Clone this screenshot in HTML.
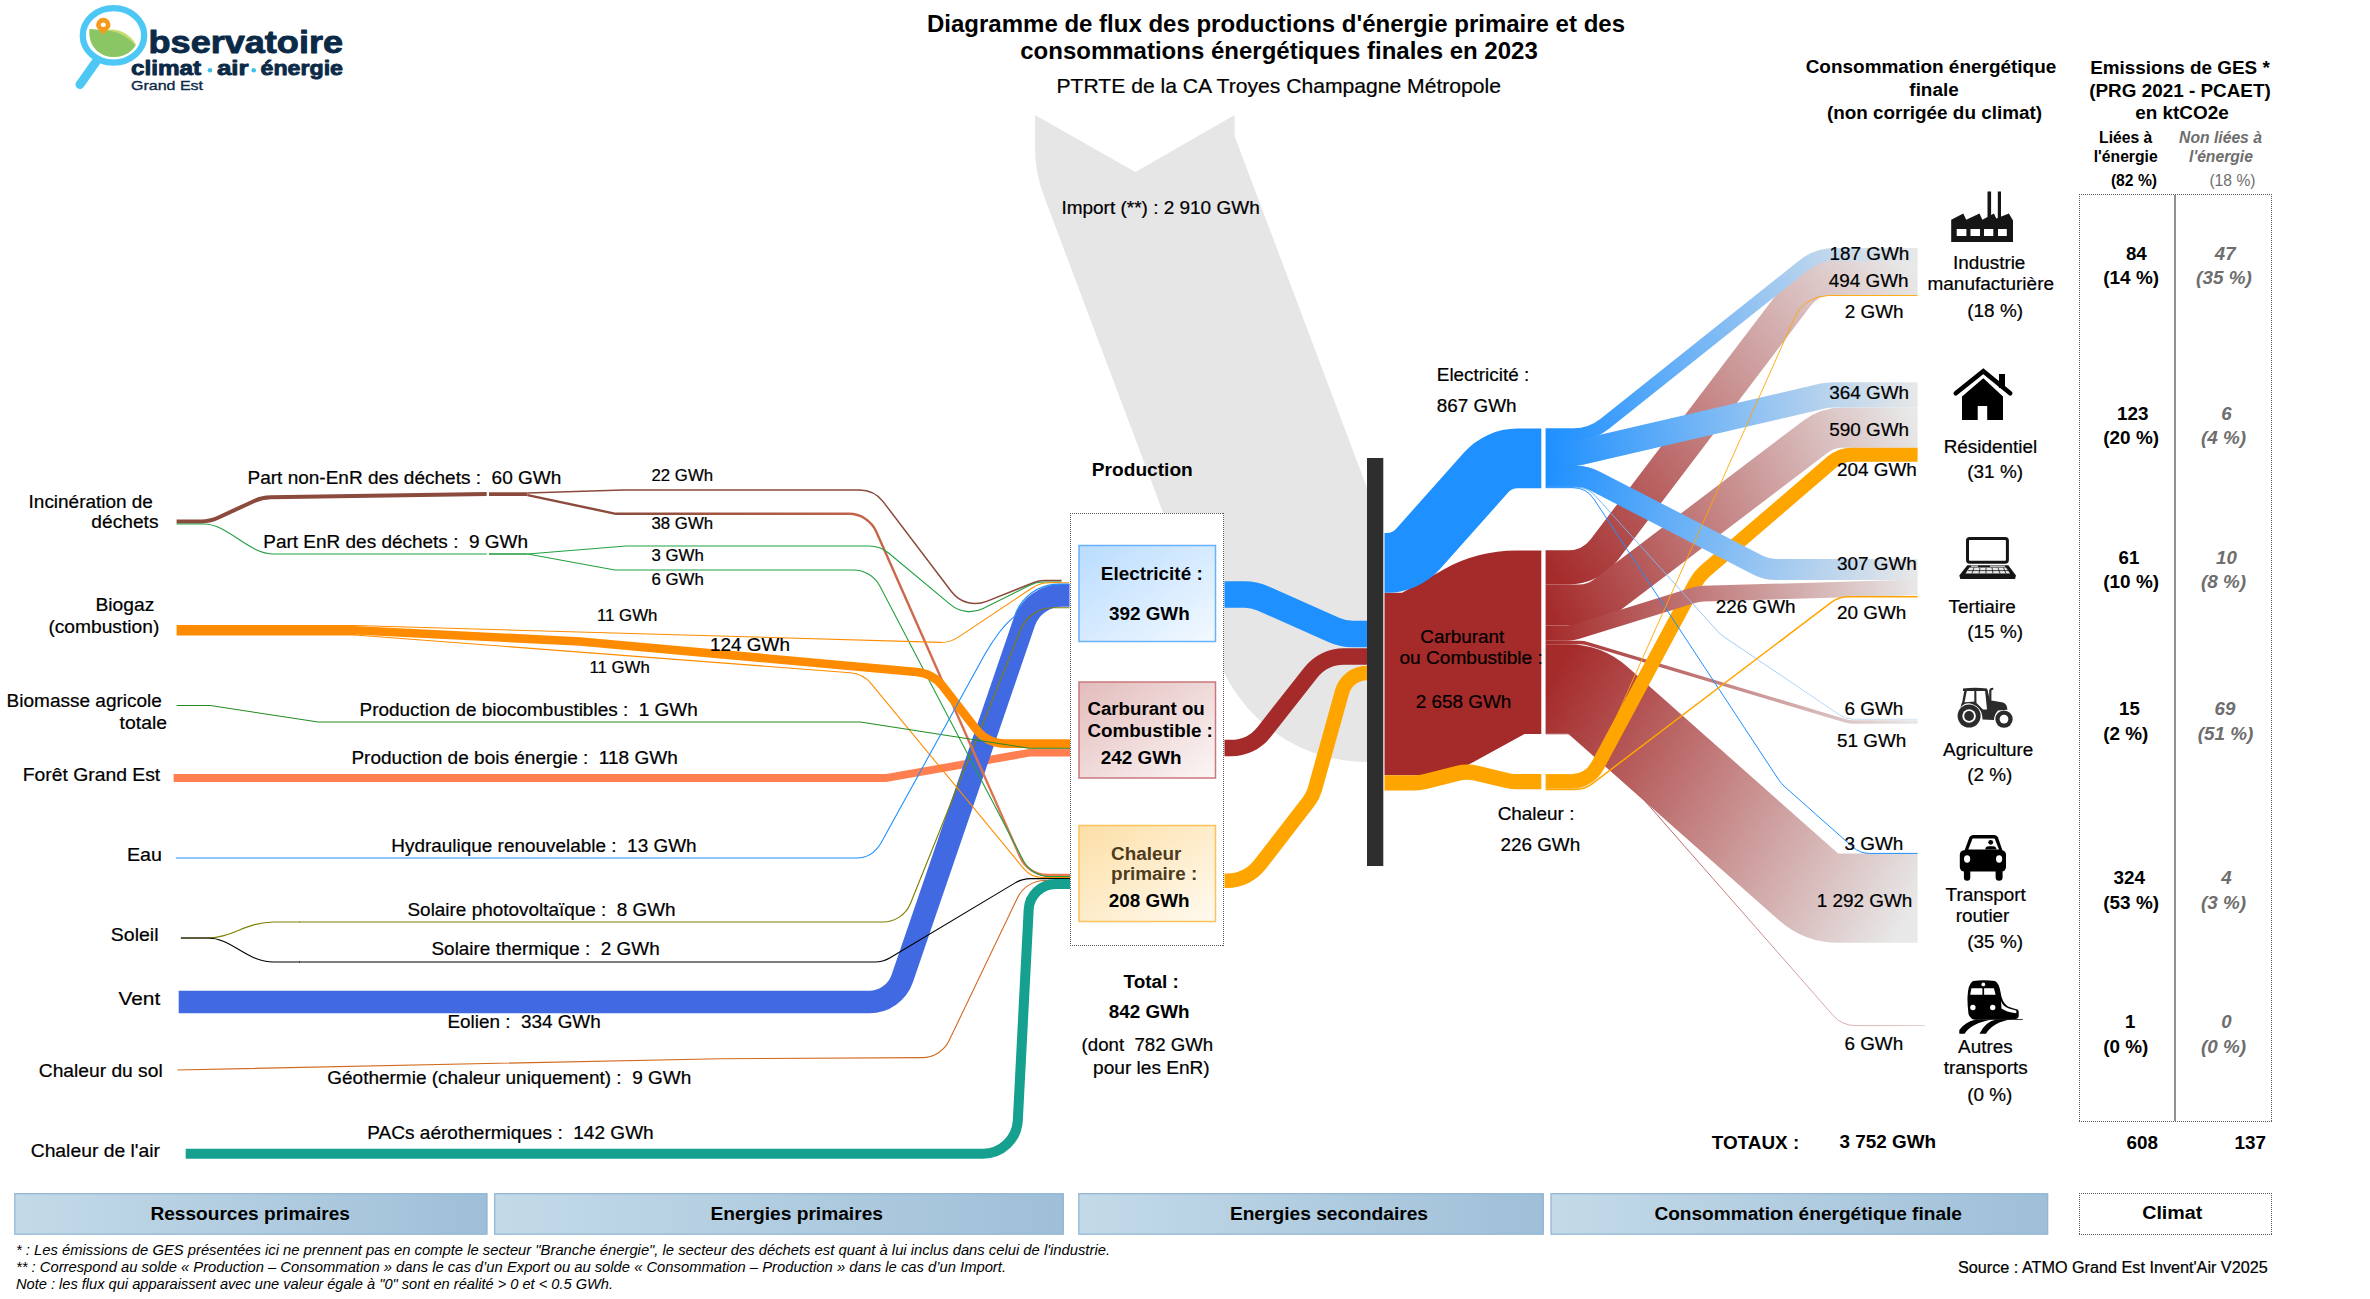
<!DOCTYPE html>
<html><head><meta charset="utf-8"><title>Diagramme de flux</title>
<style>
html,body{margin:0;padding:0;background:#fff;}
body{width:2370px;height:1299px;overflow:hidden;font-family:"Liberation Sans",sans-serif;}
svg{display:block;font-family:"Liberation Sans",sans-serif;}
</style></head><body>
<svg width="2370" height="1299" viewBox="0 0 2370 1299">
<defs>
<linearGradient id="g1" gradientUnits="userSpaceOnUse" x1="615" y1="0" x2="1070" y2="0"><stop offset="0" stop-color="#8b4a3c"/><stop offset="1" stop-color="#ee7a55"/></linearGradient>
<linearGradient id="gE" x1="0" y1="0" x2="1" y2="1"><stop offset="0" stop-color="#b9dcff"/><stop offset="1" stop-color="#f3f9ff"/></linearGradient>
<linearGradient id="gC" x1="0" y1="0" x2="1" y2="1"><stop offset="0" stop-color="#e3bcbc"/><stop offset="1" stop-color="#fcf6f6"/></linearGradient>
<linearGradient id="gH" x1="0" y1="0" x2="1" y2="1"><stop offset="0" stop-color="#fddfa6"/><stop offset="1" stop-color="#fffaf0"/></linearGradient>
<linearGradient id="g2" gradientUnits="userSpaceOnUse" x1="1545.6" y1="0" x2="1917.6" y2="0"><stop offset="0" stop-color="#a52a2a"/><stop offset="1" stop-color="#e8e8e8"/></linearGradient>
<linearGradient id="g3" gradientUnits="userSpaceOnUse" x1="1545.6" y1="0" x2="1917.6" y2="0"><stop offset="0" stop-color="#1e90ff"/><stop offset="1" stop-color="#e8e8e8"/></linearGradient>
<linearGradient id="g4" gradientUnits="userSpaceOnUse" x1="1545.6" y1="567.35" x2="1917.6" y2="277.9"><stop offset="0" stop-color="#a52a2a"/><stop offset="1" stop-color="#e8e8e8"/></linearGradient>
<linearGradient id="g5" gradientUnits="userSpaceOnUse" x1="1545.6" y1="604.8" x2="1917.6" y2="427.6"><stop offset="0" stop-color="#a52a2a"/><stop offset="1" stop-color="#e8e8e8"/></linearGradient>
<linearGradient id="g6" gradientUnits="userSpaceOnUse" x1="1545.6" y1="688.95" x2="1917.6" y2="898.15"><stop offset="0" stop-color="#a52a2a"/><stop offset="1" stop-color="#e8e8e8"/></linearGradient>
<linearGradient id="g7" gradientUnits="userSpaceOnUse" x1="1545.6" y1="642.55" x2="1917.6" y2="722.1"><stop offset="0" stop-color="#a52a2a"/><stop offset="1" stop-color="#e8e8e8"/></linearGradient>
<linearGradient id="g8" gradientUnits="userSpaceOnUse" x1="1545.6" y1="0" x2="1924.7" y2="0"><stop offset="0" stop-color="#a83c3c"/><stop offset="1" stop-color="#e6cccc"/></linearGradient>
<linearGradient id="g9" gradientUnits="userSpaceOnUse" x1="1545.6" y1="434.85" x2="1917.6" y2="254.45"><stop offset="0" stop-color="#1e90ff"/><stop offset="1" stop-color="#e8e8e8"/></linearGradient>
<linearGradient id="g10" gradientUnits="userSpaceOnUse" x1="1545.6" y1="453.6" x2="1917.6" y2="394.9"><stop offset="0" stop-color="#1e90ff"/><stop offset="1" stop-color="#e8e8e8"/></linearGradient>
<linearGradient id="g11" gradientUnits="userSpaceOnUse" x1="1545.6" y1="476.4" x2="1917.6" y2="569.5"><stop offset="0" stop-color="#1e90ff"/><stop offset="1" stop-color="#e8e8e8"/></linearGradient>
<linearGradient id="g12" gradientUnits="userSpaceOnUse" x1="1545.6" y1="633" x2="1917.6" y2="587.4"><stop offset="0" stop-color="#a52a2a"/><stop offset="1" stop-color="#e8e8e8"/></linearGradient>
<linearGradient id="g13" gradientUnits="userSpaceOnUse" x1="1545.6" y1="0" x2="1917.6" y2="0"><stop offset="0" stop-color="#5aa9f5"/><stop offset="1" stop-color="#cfe2f5"/></linearGradient>
<linearGradient id="gBar" x1="0" y1="0" x2="1" y2="0"><stop offset="0" stop-color="#c3dae8"/><stop offset="1" stop-color="#9fbfd8"/></linearGradient>
</defs>
<path d="M1035,115 L1135.4,172 L1234.6,115 L1234.6,136 L1367,487.8 L1367,762 A159,159 0 0 1 1218.2,659 L1043.8,195.8 A137.5,137.5 0 0 1 1035,148 Z" fill="#e6e6e6"/>
<path d="M173.60,778.00 L885.13,778.00 A10.00,10.00 0 0 0 886.86,777.85 L1029.64,752.75 A10.00,10.00 0 0 1 1031.37,752.60 L1070.00,752.60" fill="none" stroke="#ff7f50" stroke-width="7.80" stroke-linejoin="round"/>
<path d="M178.70,1002.00 L869.19,1002.00 A35.00,35.00 0 0 0 902.30,978.34 L1024.14,622.44 A40.00,40.00 0 0 1 1061.99,595.40 L1069.50,595.40" fill="none" stroke="#4169e1" stroke-width="22.60" />
<path d="M176.60,521.40 L201.21,521.40 A40.00,40.00 0 0 0 217.98,517.72 L254.30,500.95 A40.00,40.00 0 0 1 270.48,497.28 L486.70,494.10" fill="none" stroke="#8b4a3c" stroke-width="4.00" />
<path d="M489.00,494.10 L527.60,494.10" fill="none" stroke="#8b4a3c" stroke-width="3.80" />
<path d="M176.6,524 L204,524 C228,524 248,554 274,554 L486.7,554" fill="none" stroke="#22a040" stroke-width="1.1"/>
<path d="M489.00,554.00 L527.60,554.00" fill="none" stroke="#1a9a3a" stroke-width="1.70" />
<path d="M180.9,938 L208,938 C232,938 246,922 274,922 L300,922" fill="none" stroke="#808000" stroke-width="1.15"/>
<path d="M299.00,922.00 L882.74,922.00 A30.00,30.00 0 0 0 910.57,903.20 L1020.67,629.63 A35.00,35.00 0 0 1 1053.14,607.70 L1069.50,607.70" fill="none" stroke="#808000" stroke-width="1.15" />
<path d="M527.60,492.90 L623.20,490.00 L859.42,490.00 A30.00,30.00 0 0 1 883.30,501.85 L951.58,591.72 A30.00,30.00 0 0 0 986.61,601.42 L1033.34,582.74 A30.00,30.00 0 0 1 1044.47,580.60 L1061.60,580.60" fill="none" stroke="#8b4a3c" stroke-width="1.50" />
<path d="M527.60,495.20 L615.80,513.80 L848.86,513.80 A30.00,30.00 0 0 1 876.30,531.67 L1020.20,857.13 A30.00,30.00 0 0 0 1047.64,875.00 L1070.00,875.00" fill="none" stroke="url(#g1)" stroke-width="2.40" />
<path d="M527.60,554.00 L626.00,546.00 L869.33,546.00 A30.00,30.00 0 0 1 888.55,552.96 L950.54,604.64 A30.00,30.00 0 0 0 983.15,608.44 L1029.77,585.16 A30.00,30.00 0 0 1 1043.17,582.00 L1061.60,582.00" fill="none" stroke="#22a040" stroke-width="1.10" />
<path d="M527.60,554.00 L614.80,570.00 L853.23,570.00 A30.00,30.00 0 0 1 879.82,586.10 L1023.28,860.40 A30.00,30.00 0 0 0 1049.87,876.50 L1070.00,876.50" fill="none" stroke="#22a040" stroke-width="1.10" />
<path d="M176.60,630.20 L356.00,630.20" fill="none" stroke="#ff8c00" stroke-width="10.50" />
<path d="M354.80,625.50 L940.45,642.42 A30.00,30.00 0 0 0 957.95,637.40 L1032.44,587.74 A30.00,30.00 0 0 1 1049.08,582.70 L1069.00,582.70" fill="none" stroke="#ff8c00" stroke-width="1.10" />
<path d="M354.80,635.00 L850.26,672.73 A30.00,30.00 0 0 1 871.13,683.56 L1023.50,868.40 A25.00,25.00 0 0 0 1042.79,877.50 L1070.00,877.50" fill="none" stroke="#ff8c00" stroke-width="1.10" />
<path d="M354.00,630.20 L580.00,641.50 L916.50,671.91 A38.00,38.00 0 0 1 943.14,686.51 L975.89,728.85 A38.00,38.00 0 0 0 1005.95,743.60 L1070.00,743.60" fill="none" stroke="#ff8c00" stroke-width="8.60" stroke-linejoin="round"/>
<path d="M176.60,705.50 L209.77,705.50 A3.00,3.00 0 0 1 210.22,705.53 L318.18,721.97 A3.00,3.00 0 0 0 318.63,722.00 L859.61,722.00 A5.00,5.00 0 0 1 860.38,722.06 L1028.74,748.18 A10.00,10.00 0 0 0 1030.27,748.30 L1070.00,748.30" fill="none" stroke="#228b22" stroke-width="1.10" />
<path d="M175.8,858 L857,858 Q872,858 881,843 L985,654 Q1000,628 1014.65,616.1 A46.3,46.3 0 0 1 1058.5,584.1 L1069.5,584.1" fill="none" stroke="#1e90ff" stroke-width="1.1"/>
<path d="M180.9,938 L208,938 C232,938 246,962 274,962 L300,962" fill="none" stroke="#000" stroke-width="1.1"/>
<path d="M299.00,962.00 L874.71,962.00 A30.00,30.00 0 0 0 890.12,957.74 L1015.18,882.86 A30.00,30.00 0 0 1 1030.59,878.60 L1070.00,878.60" fill="none" stroke="#000" stroke-width="1.10" />
<path d="M177.50,1070.00 L720.00,1058.70 L922.22,1057.60 A30.00,30.00 0 0 0 949.11,1040.56 L1017.64,897.54 A30.00,30.00 0 0 1 1044.69,880.50 L1070.00,880.50" fill="none" stroke="#d2691e" stroke-width="1.10" />
<path d="M185.70,1153.80 L982.86,1153.80 A35.00,35.00 0 0 0 1017.81,1120.60 L1028.68,909.61 A27.00,27.00 0 0 1 1055.64,884.00 L1070.00,884.00" fill="none" stroke="#16a090" stroke-width="10.00" />
<rect x="1070" y="513" width="154" height="433" fill="#fff"/>
<line x1="1070" y1="513.5" x2="1224" y2="513.5" stroke="#5a5a5a" stroke-width="1" stroke-dasharray="1 1" shape-rendering="crispEdges"/>
<line x1="1070" y1="945.5" x2="1224" y2="945.5" stroke="#5a5a5a" stroke-width="1" stroke-dasharray="1 1" shape-rendering="crispEdges"/>
<line x1="1070.5" y1="513" x2="1070.5" y2="946" stroke="#5a5a5a" stroke-width="1" stroke-dasharray="1 1" shape-rendering="crispEdges"/>
<line x1="1223.5" y1="513" x2="1223.5" y2="946" stroke="#5a5a5a" stroke-width="1" stroke-dasharray="1 1" shape-rendering="crispEdges"/>
<rect x="1079" y="545.5" width="136.5" height="96" fill="url(#gE)" stroke="#69b1fb" stroke-width="1.5"/>
<rect x="1079" y="682" width="136.5" height="96" fill="url(#gC)" stroke="#c9787c" stroke-width="1.5"/>
<rect x="1079" y="825.5" width="136.5" height="96" fill="url(#gH)" stroke="#fcc35a" stroke-width="1.5"/>
<path d="M1224.50,594.40 L1244.44,594.40 A45.00,45.00 0 0 1 1262.73,598.29 L1334.27,630.11 A45.00,45.00 0 0 0 1352.56,634.00 L1368.00,634.00" fill="none" stroke="#1e90ff" stroke-width="26.50" />
<path d="M1224.50,748.00 L1231.04,748.00 A42.00,42.00 0 0 0 1264.01,732.02 L1310.99,672.48 A42.00,42.00 0 0 1 1343.96,656.50 L1368.00,656.50" fill="none" stroke="#a52a2a" stroke-width="16.50" />
<path d="M1224.50,880.70 L1226.89,880.70 A42.00,42.00 0 0 0 1260.11,864.39 L1308.81,801.42 A35.00,35.00 0 0 0 1314.84,789.41 L1342.02,691.94 A25.90,25.90 0 0 1 1366.96,673.00 L1368.00,673.00" fill="none" stroke="#ffa500" stroke-width="14.50" />
<path d="M1384.5,592.8 L1402.1,592.8 L1443.7,569.4 A150,150 0 0 1 1516.4,550.6 L1541.3,550.6 L1541.3,733.9 L1524.5,733.9 L1469.8,764 A91.25,91.25 0 0 1 1425.6,775.2 L1384.5,775.2 Z" fill="#a52a2a"/>
<path d="M1384.50,562.90 L1386.84,562.90 A42.00,42.00 0 0 0 1418.23,548.81 L1486.07,472.49 A42.00,42.00 0 0 1 1517.46,458.40 L1541.30,458.40" fill="none" stroke="#1e90ff" stroke-width="59.60" />
<path d="M1384.50,782.90 L1415.01,782.90 A40.00,40.00 0 0 0 1424.83,781.68 L1457.52,773.40 A40.00,40.00 0 0 1 1476.51,773.24 L1507.48,780.53 A40.00,40.00 0 0 0 1516.65,781.60 L1541.30,781.60" fill="none" stroke="#ffa500" stroke-width="15.20" />
<path d="M1545.60,567.35 L1568.46,567.35 A45.00,45.00 0 0 0 1604.31,549.55 L1796.89,295.70 A45.00,45.00 0 0 1 1832.74,277.90 L1917.60,277.90" fill="none" stroke="url(#g4)" stroke-width="34.20" stroke-linejoin="round"/>
<path d="M1545.60,604.80 L1578.86,604.80 A45.00,45.00 0 0 0 1606.06,595.65 L1815.44,436.75 A45.00,45.00 0 0 1 1842.64,427.60 L1917.60,427.60" fill="none" stroke="url(#g5)" stroke-width="40.40" stroke-linejoin="round"/>
<path d="M1545.60,688.95 L1567.94,688.95 A45.00,45.00 0 0 1 1597.77,700.26 L1808.53,886.84 A45.00,45.00 0 0 0 1838.36,898.15 L1917.60,898.15" fill="none" stroke="url(#g6)" stroke-width="89.30" stroke-linejoin="round"/>
<path d="M1545.60,642.55 L1579.60,642.55 A30.00,30.00 0 0 1 1588.21,643.81 L1845.39,720.84 A30.00,30.00 0 0 0 1854.00,722.10 L1917.60,722.10" fill="none" stroke="url(#g7)" stroke-width="3.50" />
<path d="M1545.60,733.80 L1572.41,733.80 A30.00,30.00 0 0 1 1594.96,744.02 L1833.04,1015.38 A30.00,30.00 0 0 0 1855.59,1025.60 L1924.70,1025.60" fill="none" stroke="url(#g8)" stroke-width="1.00" />
<path d="M1545.60,781.65 L1571.04,781.65 A30.00,30.00 0 0 0 1597.48,765.83 L1695.58,582.87 A40.00,40.00 0 0 1 1704.75,571.44 L1832.06,461.95 A30.00,30.00 0 0 1 1851.63,454.70 L1917.60,454.70" fill="none" stroke="#ffa500" stroke-width="14.10" stroke-linejoin="round"/>
<path d="M1545.60,434.85 L1573.51,434.85 A50.00,50.00 0 0 0 1604.68,423.95 L1803.62,265.35 A50.00,50.00 0 0 1 1834.79,254.45 L1917.60,254.45" fill="none" stroke="url(#g9)" stroke-width="13.10" stroke-linejoin="round"/>
<path d="M1545.60,453.60 L1568.98,453.60 A50.00,50.00 0 0 0 1580.28,452.31 L1822.12,396.19 A50.00,50.00 0 0 1 1833.42,394.90 L1917.60,394.90" fill="none" stroke="url(#g10)" stroke-width="25.30" stroke-linejoin="round"/>
<path d="M1545.60,476.40 L1576.29,476.40 A40.00,40.00 0 0 1 1594.63,480.85 L1757.87,565.05 A40.00,40.00 0 0 0 1776.21,569.50 L1917.60,569.50" fill="none" stroke="url(#g11)" stroke-width="21.20" stroke-linejoin="round"/>
<path d="M1545.60,633.00 L1567.44,633.00 A30.00,30.00 0 0 0 1576.35,631.65 L1692.76,595.43 A40.00,40.00 0 0 1 1703.48,593.64 L1917.60,587.40" fill="none" stroke="url(#g12)" stroke-width="15.60" stroke-linejoin="round"/>
<path d="M1545.60,487.20 L1576.39,487.20 A25.00,25.00 0 0 1 1594.95,495.45 L1717.24,630.89 A40.00,40.00 0 0 0 1724.53,637.22 L1839.66,715.01 A25.00,25.00 0 0 0 1853.65,719.30 L1917.60,719.30" fill="none" stroke="url(#g13)" stroke-width="0.90" />
<path d="M1545.60,487.70 L1572.93,487.70 A25.00,25.00 0 0 1 1593.81,498.95 L1778.28,779.17 A40.00,40.00 0 0 0 1785.17,787.12 L1852.90,847.11 A25.00,25.00 0 0 0 1869.48,853.40 L1917.60,853.40" fill="none" stroke="#1e90ff" stroke-width="1.00" />
<path d="M1545.60,774.60 L1571.14,774.60 A30.00,30.00 0 0 0 1598.53,756.83 L1794.72,317.42 A37.00,37.00 0 0 1 1828.50,295.50 L1917.60,295.50" fill="none" stroke="#ffa500" stroke-width="0.90" />
<path d="M1545.60,789.40 L1574.60,789.40 A30.00,30.00 0 0 0 1592.74,783.30 L1830.56,602.80 A30.00,30.00 0 0 1 1848.70,596.70 L1917.60,596.70" fill="none" stroke="#ffa500" stroke-width="1.50" />
<rect x="1367" y="458" width="16.3" height="408" fill="#2e2e2e"/>
<text x="1276.0" y="32.0" font-size="24.00" font-weight="bold" font-style="normal" fill="#000" text-anchor="middle" xml:space="preserve" textLength="698.0" lengthAdjust="spacingAndGlyphs">Diagramme de flux des productions d'énergie primaire et des</text>
<text x="1279.0" y="58.5" font-size="24.00" font-weight="bold" font-style="normal" fill="#000" text-anchor="middle" xml:space="preserve" textLength="517.5" lengthAdjust="spacingAndGlyphs">consommations énergétiques finales en 2023</text>
<text x="1056.5" y="93.0" font-size="21.00" font-weight="normal" font-style="normal" fill="#000" text-anchor="start" xml:space="preserve" textLength="444.5" lengthAdjust="spacingAndGlyphs" stroke="#000" stroke-width="0.22">PTRTE de la CA Troyes Champagne Métropole</text>
<text x="1061.4" y="214.0" font-size="18.67" font-weight="normal" font-style="normal" fill="#000" text-anchor="start" xml:space="preserve" textLength="198.3" lengthAdjust="spacingAndGlyphs" stroke="#000" stroke-width="0.22">Import (**) : 2 910 GWh</text>
<text x="28.6" y="507.6" font-size="18.67" font-weight="normal" font-style="normal" fill="#000" text-anchor="start" xml:space="preserve" textLength="124.3" lengthAdjust="spacingAndGlyphs" stroke="#000" stroke-width="0.22">Incinération de</text>
<text x="91.3" y="528.4" font-size="18.67" font-weight="normal" font-style="normal" fill="#000" text-anchor="start" xml:space="preserve" textLength="67.2" lengthAdjust="spacingAndGlyphs" stroke="#000" stroke-width="0.22">déchets</text>
<text x="95.5" y="611.4" font-size="18.67" font-weight="normal" font-style="normal" fill="#000" text-anchor="start" xml:space="preserve" textLength="58.8" lengthAdjust="spacingAndGlyphs" stroke="#000" stroke-width="0.22">Biogaz</text>
<text x="48.4" y="632.6" font-size="18.67" font-weight="normal" font-style="normal" fill="#000" text-anchor="start" xml:space="preserve" textLength="110.9" lengthAdjust="spacingAndGlyphs" stroke="#000" stroke-width="0.22">(combustion)</text>
<text x="6.6" y="707.4" font-size="18.67" font-weight="normal" font-style="normal" fill="#000" text-anchor="start" xml:space="preserve" textLength="155.3" lengthAdjust="spacingAndGlyphs" stroke="#000" stroke-width="0.22">Biomasse agricole</text>
<text x="119.6" y="729.4" font-size="18.67" font-weight="normal" font-style="normal" fill="#000" text-anchor="start" xml:space="preserve" textLength="47.4" lengthAdjust="spacingAndGlyphs" stroke="#000" stroke-width="0.22">totale</text>
<text x="22.7" y="780.8" font-size="18.67" font-weight="normal" font-style="normal" fill="#000" text-anchor="start" xml:space="preserve" textLength="137.5" lengthAdjust="spacingAndGlyphs" stroke="#000" stroke-width="0.22">Forêt Grand Est</text>
<text x="126.9" y="860.9" font-size="18.67" font-weight="normal" font-style="normal" fill="#000" text-anchor="start" xml:space="preserve" textLength="35.0" lengthAdjust="spacingAndGlyphs" stroke="#000" stroke-width="0.22">Eau</text>
<text x="110.8" y="940.6" font-size="18.67" font-weight="normal" font-style="normal" fill="#000" text-anchor="start" xml:space="preserve" textLength="47.7" lengthAdjust="spacingAndGlyphs" stroke="#000" stroke-width="0.22">Soleil</text>
<text x="118.4" y="1004.7" font-size="18.67" font-weight="normal" font-style="normal" fill="#000" text-anchor="start" xml:space="preserve" textLength="41.8" lengthAdjust="spacingAndGlyphs" stroke="#000" stroke-width="0.22">Vent</text>
<text x="38.8" y="1077.0" font-size="18.67" font-weight="normal" font-style="normal" fill="#000" text-anchor="start" xml:space="preserve" textLength="123.9" lengthAdjust="spacingAndGlyphs" stroke="#000" stroke-width="0.22">Chaleur du sol</text>
<text x="30.7" y="1156.5" font-size="18.67" font-weight="normal" font-style="normal" fill="#000" text-anchor="start" xml:space="preserve" textLength="129.3" lengthAdjust="spacingAndGlyphs" stroke="#000" stroke-width="0.22">Chaleur de l'air</text>
<text x="247.5" y="483.8" font-size="18.67" font-weight="normal" font-style="normal" fill="#000" text-anchor="start" xml:space="preserve" textLength="313.8" lengthAdjust="spacingAndGlyphs" stroke="#000" stroke-width="0.22">Part non-EnR des déchets :  60 GWh</text>
<text x="263.3" y="547.5" font-size="18.67" font-weight="normal" font-style="normal" fill="#000" text-anchor="start" xml:space="preserve" textLength="264.7" lengthAdjust="spacingAndGlyphs" stroke="#000" stroke-width="0.22">Part EnR des déchets :  9 GWh</text>
<text x="359.5" y="715.8" font-size="18.67" font-weight="normal" font-style="normal" fill="#000" text-anchor="start" xml:space="preserve" textLength="338.2" lengthAdjust="spacingAndGlyphs" stroke="#000" stroke-width="0.22">Production de biocombustibles :  1 GWh</text>
<text x="351.4" y="763.7" font-size="18.67" font-weight="normal" font-style="normal" fill="#000" text-anchor="start" xml:space="preserve" textLength="326.4" lengthAdjust="spacingAndGlyphs" stroke="#000" stroke-width="0.22">Production de bois énergie :  118 GWh</text>
<text x="391.3" y="851.6" font-size="18.67" font-weight="normal" font-style="normal" fill="#000" text-anchor="start" xml:space="preserve" textLength="305.3" lengthAdjust="spacingAndGlyphs" stroke="#000" stroke-width="0.22">Hydraulique renouvelable :  13 GWh</text>
<text x="407.5" y="915.5" font-size="18.67" font-weight="normal" font-style="normal" fill="#000" text-anchor="start" xml:space="preserve" textLength="268.1" lengthAdjust="spacingAndGlyphs" stroke="#000" stroke-width="0.22">Solaire photovoltaïque :  8 GWh</text>
<text x="431.5" y="955.2" font-size="18.67" font-weight="normal" font-style="normal" fill="#000" text-anchor="start" xml:space="preserve" textLength="228.2" lengthAdjust="spacingAndGlyphs" stroke="#000" stroke-width="0.22">Solaire thermique :  2 GWh</text>
<text x="447.4" y="1027.8" font-size="18.67" font-weight="normal" font-style="normal" fill="#000" text-anchor="start" xml:space="preserve" textLength="153.3" lengthAdjust="spacingAndGlyphs" stroke="#000" stroke-width="0.22">Eolien :  334 GWh</text>
<text x="327.3" y="1083.7" font-size="18.67" font-weight="normal" font-style="normal" fill="#000" text-anchor="start" xml:space="preserve" textLength="363.9" lengthAdjust="spacingAndGlyphs" stroke="#000" stroke-width="0.22">Géothermie (chaleur uniquement) :  9 GWh</text>
<text x="367.3" y="1139.0" font-size="18.67" font-weight="normal" font-style="normal" fill="#000" text-anchor="start" xml:space="preserve" textLength="286.4" lengthAdjust="spacingAndGlyphs" stroke="#000" stroke-width="0.22">PACs aérothermiques :  142 GWh</text>
<text x="651.5" y="481.0" font-size="16.00" font-weight="normal" font-style="normal" fill="#000" text-anchor="start" xml:space="preserve" textLength="61.6" lengthAdjust="spacingAndGlyphs" stroke="#000" stroke-width="0.22">22 GWh</text>
<text x="651.5" y="528.7" font-size="16.00" font-weight="normal" font-style="normal" fill="#000" text-anchor="start" xml:space="preserve" textLength="61.6" lengthAdjust="spacingAndGlyphs" stroke="#000" stroke-width="0.22">38 GWh</text>
<text x="651.5" y="560.6" font-size="16.00" font-weight="normal" font-style="normal" fill="#000" text-anchor="start" xml:space="preserve" textLength="52.3" lengthAdjust="spacingAndGlyphs" stroke="#000" stroke-width="0.22">3 GWh</text>
<text x="651.5" y="584.7" font-size="16.00" font-weight="normal" font-style="normal" fill="#000" text-anchor="start" xml:space="preserve" textLength="52.3" lengthAdjust="spacingAndGlyphs" stroke="#000" stroke-width="0.22">6 GWh</text>
<text x="597.0" y="620.8" font-size="16.00" font-weight="normal" font-style="normal" fill="#000" text-anchor="start" xml:space="preserve" textLength="60.4" lengthAdjust="spacingAndGlyphs" stroke="#000" stroke-width="0.22">11 GWh</text>
<text x="710.1" y="651.4" font-size="18.67" font-weight="normal" font-style="normal" fill="#000" text-anchor="start" xml:space="preserve" textLength="79.8" lengthAdjust="spacingAndGlyphs" stroke="#000" stroke-width="0.22">124 GWh</text>
<text x="589.4" y="673.4" font-size="16.00" font-weight="normal" font-style="normal" fill="#000" text-anchor="start" xml:space="preserve" textLength="60.4" lengthAdjust="spacingAndGlyphs" stroke="#000" stroke-width="0.22">11 GWh</text>
<text x="1091.8" y="475.8" font-size="18.67" font-weight="bold" font-style="normal" fill="#000" text-anchor="start" xml:space="preserve" textLength="101.0" lengthAdjust="spacingAndGlyphs">Production</text>
<text x="1100.8" y="579.8" font-size="18.67" font-weight="bold" font-style="normal" fill="#000" text-anchor="start" xml:space="preserve" textLength="101.9" lengthAdjust="spacingAndGlyphs">Electricité :</text>
<text x="1108.9" y="620.2" font-size="18.67" font-weight="bold" font-style="normal" fill="#000" text-anchor="start" xml:space="preserve" textLength="80.8" lengthAdjust="spacingAndGlyphs">392 GWh</text>
<text x="1087.4" y="714.9" font-size="18.67" font-weight="bold" font-style="normal" fill="#000" text-anchor="start" xml:space="preserve" textLength="117.4" lengthAdjust="spacingAndGlyphs">Carburant ou</text>
<text x="1087.4" y="736.8" font-size="18.67" font-weight="bold" font-style="normal" fill="#000" text-anchor="start" xml:space="preserve" textLength="125.5" lengthAdjust="spacingAndGlyphs">Combustible :</text>
<text x="1100.8" y="763.7" font-size="18.67" font-weight="bold" font-style="normal" fill="#000" text-anchor="start" xml:space="preserve" textLength="80.8" lengthAdjust="spacingAndGlyphs">242 GWh</text>
<text x="1111.1" y="859.6" font-size="18.67" font-weight="bold" font-style="normal" fill="#4d3b1c" text-anchor="start" xml:space="preserve" textLength="70.3" lengthAdjust="spacingAndGlyphs">Chaleur</text>
<text x="1111.1" y="880.1" font-size="18.67" font-weight="bold" font-style="normal" fill="#4d3b1c" text-anchor="start" xml:space="preserve" textLength="86.1" lengthAdjust="spacingAndGlyphs">primaire :</text>
<text x="1108.8" y="907.4" font-size="18.67" font-weight="bold" font-style="normal" fill="#000" text-anchor="start" xml:space="preserve" textLength="80.8" lengthAdjust="spacingAndGlyphs">208 GWh</text>
<text x="1123.6" y="987.5" font-size="18.67" font-weight="bold" font-style="normal" fill="#000" text-anchor="start" xml:space="preserve" textLength="55.3" lengthAdjust="spacingAndGlyphs">Total :</text>
<text x="1108.8" y="1018.2" font-size="18.67" font-weight="bold" font-style="normal" fill="#000" text-anchor="start" xml:space="preserve" textLength="80.8" lengthAdjust="spacingAndGlyphs">842 GWh</text>
<text x="1081.6" y="1050.6" font-size="18.67" font-weight="normal" font-style="normal" fill="#000" text-anchor="start" xml:space="preserve" textLength="131.6" lengthAdjust="spacingAndGlyphs" stroke="#000" stroke-width="0.22">(dont  782 GWh</text>
<text x="1093.1" y="1073.7" font-size="18.67" font-weight="normal" font-style="normal" fill="#000" text-anchor="start" xml:space="preserve" textLength="116.6" lengthAdjust="spacingAndGlyphs" stroke="#000" stroke-width="0.22">pour les EnR)</text>
<text x="1436.8" y="381.0" font-size="18.67" font-weight="normal" font-style="normal" fill="#000" text-anchor="start" xml:space="preserve" textLength="92.4" lengthAdjust="spacingAndGlyphs" stroke="#000" stroke-width="0.22">Electricité :</text>
<text x="1436.8" y="411.5" font-size="18.67" font-weight="normal" font-style="normal" fill="#000" text-anchor="start" xml:space="preserve" textLength="79.8" lengthAdjust="spacingAndGlyphs" stroke="#000" stroke-width="0.22">867 GWh</text>
<text x="1420.3" y="643.3" font-size="18.67" font-weight="normal" font-style="normal" fill="#000" text-anchor="start" xml:space="preserve" textLength="84.0" lengthAdjust="spacingAndGlyphs" stroke="#000" stroke-width="0.22">Carburant</text>
<text x="1399.5" y="664.4" font-size="18.67" font-weight="normal" font-style="normal" fill="#000" text-anchor="start" xml:space="preserve" textLength="143.2" lengthAdjust="spacingAndGlyphs" stroke="#000" stroke-width="0.22">ou Combustible :</text>
<text x="1415.7" y="707.9" font-size="18.67" font-weight="normal" font-style="normal" fill="#000" text-anchor="start" xml:space="preserve" textLength="95.6" lengthAdjust="spacingAndGlyphs" stroke="#000" stroke-width="0.22">2 658 GWh</text>
<text x="1497.7" y="820.3" font-size="18.67" font-weight="normal" font-style="normal" fill="#000" text-anchor="start" xml:space="preserve" textLength="76.7" lengthAdjust="spacingAndGlyphs" stroke="#000" stroke-width="0.22">Chaleur :</text>
<text x="1500.4" y="851.1" font-size="18.67" font-weight="normal" font-style="normal" fill="#000" text-anchor="start" xml:space="preserve" textLength="79.8" lengthAdjust="spacingAndGlyphs" stroke="#000" stroke-width="0.22">226 GWh</text>
<text x="1829.5" y="259.6" font-size="18.67" font-weight="normal" font-style="normal" fill="#000" text-anchor="start" xml:space="preserve" textLength="79.8" lengthAdjust="spacingAndGlyphs" stroke="#000" stroke-width="0.22">187 GWh</text>
<text x="1828.7" y="287.0" font-size="18.67" font-weight="normal" font-style="normal" fill="#000" text-anchor="start" xml:space="preserve" textLength="79.8" lengthAdjust="spacingAndGlyphs" stroke="#000" stroke-width="0.22">494 GWh</text>
<text x="1844.7" y="317.8" font-size="18.67" font-weight="normal" font-style="normal" fill="#000" text-anchor="start" xml:space="preserve" textLength="58.8" lengthAdjust="spacingAndGlyphs" stroke="#000" stroke-width="0.22">2 GWh</text>
<text x="1829.3" y="398.5" font-size="18.67" font-weight="normal" font-style="normal" fill="#000" text-anchor="start" xml:space="preserve" textLength="79.8" lengthAdjust="spacingAndGlyphs" stroke="#000" stroke-width="0.22">364 GWh</text>
<text x="1829.3" y="435.8" font-size="18.67" font-weight="normal" font-style="normal" fill="#000" text-anchor="start" xml:space="preserve" textLength="79.8" lengthAdjust="spacingAndGlyphs" stroke="#000" stroke-width="0.22">590 GWh</text>
<text x="1837.0" y="476.4" font-size="18.67" font-weight="normal" font-style="normal" fill="#000" text-anchor="start" xml:space="preserve" textLength="79.8" lengthAdjust="spacingAndGlyphs" stroke="#000" stroke-width="0.22">204 GWh</text>
<text x="1837.0" y="569.6" font-size="18.67" font-weight="normal" font-style="normal" fill="#000" text-anchor="start" xml:space="preserve" textLength="79.8" lengthAdjust="spacingAndGlyphs" stroke="#000" stroke-width="0.22">307 GWh</text>
<text x="1715.8" y="612.6" font-size="18.67" font-weight="normal" font-style="normal" fill="#000" text-anchor="start" xml:space="preserve" textLength="79.8" lengthAdjust="spacingAndGlyphs" stroke="#000" stroke-width="0.22">226 GWh</text>
<text x="1837.0" y="619.3" font-size="18.67" font-weight="normal" font-style="normal" fill="#000" text-anchor="start" xml:space="preserve" textLength="69.3" lengthAdjust="spacingAndGlyphs" stroke="#000" stroke-width="0.22">20 GWh</text>
<text x="1844.5" y="715.1" font-size="18.67" font-weight="normal" font-style="normal" fill="#000" text-anchor="start" xml:space="preserve" textLength="58.8" lengthAdjust="spacingAndGlyphs" stroke="#000" stroke-width="0.22">6 GWh</text>
<text x="1837.0" y="747.3" font-size="18.67" font-weight="normal" font-style="normal" fill="#000" text-anchor="start" xml:space="preserve" textLength="69.3" lengthAdjust="spacingAndGlyphs" stroke="#000" stroke-width="0.22">51 GWh</text>
<text x="1844.5" y="849.6" font-size="18.67" font-weight="normal" font-style="normal" fill="#000" text-anchor="start" xml:space="preserve" textLength="58.8" lengthAdjust="spacingAndGlyphs" stroke="#000" stroke-width="0.22">3 GWh</text>
<text x="1816.7" y="907.2" font-size="18.67" font-weight="normal" font-style="normal" fill="#000" text-anchor="start" xml:space="preserve" textLength="95.6" lengthAdjust="spacingAndGlyphs" stroke="#000" stroke-width="0.22">1 292 GWh</text>
<text x="1844.4" y="1050.4" font-size="18.67" font-weight="normal" font-style="normal" fill="#000" text-anchor="start" xml:space="preserve" textLength="58.8" lengthAdjust="spacingAndGlyphs" stroke="#000" stroke-width="0.22">6 GWh</text>
<text x="1952.9" y="268.9" font-size="18.67" font-weight="normal" font-style="normal" fill="#000" text-anchor="start" xml:space="preserve" textLength="72.5" lengthAdjust="spacingAndGlyphs" stroke="#000" stroke-width="0.22">Industrie</text>
<text x="1927.5" y="289.7" font-size="18.67" font-weight="normal" font-style="normal" fill="#000" text-anchor="start" xml:space="preserve" textLength="126.5" lengthAdjust="spacingAndGlyphs" stroke="#000" stroke-width="0.22">manufacturière</text>
<text x="1967.3" y="317.4" font-size="18.67" font-weight="normal" font-style="normal" fill="#000" text-anchor="start" xml:space="preserve" textLength="55.7" lengthAdjust="spacingAndGlyphs" stroke="#000" stroke-width="0.22">(18 %)</text>
<text x="1943.7" y="452.5" font-size="18.67" font-weight="normal" font-style="normal" fill="#000" text-anchor="start" xml:space="preserve" textLength="93.5" lengthAdjust="spacingAndGlyphs" stroke="#000" stroke-width="0.22">Résidentiel</text>
<text x="1967.3" y="477.6" font-size="18.67" font-weight="normal" font-style="normal" fill="#000" text-anchor="start" xml:space="preserve" textLength="55.7" lengthAdjust="spacingAndGlyphs" stroke="#000" stroke-width="0.22">(31 %)</text>
<text x="1948.6" y="612.5" font-size="18.67" font-weight="normal" font-style="normal" fill="#000" text-anchor="start" xml:space="preserve" textLength="67.2" lengthAdjust="spacingAndGlyphs" stroke="#000" stroke-width="0.22">Tertiaire</text>
<text x="1967.3" y="637.6" font-size="18.67" font-weight="normal" font-style="normal" fill="#000" text-anchor="start" xml:space="preserve" textLength="55.7" lengthAdjust="spacingAndGlyphs" stroke="#000" stroke-width="0.22">(15 %)</text>
<text x="1943.1" y="756.4" font-size="18.67" font-weight="normal" font-style="normal" fill="#000" text-anchor="start" xml:space="preserve" textLength="90.3" lengthAdjust="spacingAndGlyphs" stroke="#000" stroke-width="0.22">Agriculture</text>
<text x="1967.3" y="781.2" font-size="18.67" font-weight="normal" font-style="normal" fill="#000" text-anchor="start" xml:space="preserve" textLength="45.1" lengthAdjust="spacingAndGlyphs" stroke="#000" stroke-width="0.22">(2 %)</text>
<text x="1945.6" y="900.8" font-size="18.67" font-weight="normal" font-style="normal" fill="#000" text-anchor="start" xml:space="preserve" textLength="80.2" lengthAdjust="spacingAndGlyphs" stroke="#000" stroke-width="0.22">Transport</text>
<text x="1955.8" y="921.6" font-size="18.67" font-weight="normal" font-style="normal" fill="#000" text-anchor="start" xml:space="preserve" textLength="53.6" lengthAdjust="spacingAndGlyphs" stroke="#000" stroke-width="0.22">routier</text>
<text x="1967.3" y="948.0" font-size="18.67" font-weight="normal" font-style="normal" fill="#000" text-anchor="start" xml:space="preserve" textLength="55.7" lengthAdjust="spacingAndGlyphs" stroke="#000" stroke-width="0.22">(35 %)</text>
<text x="1958.1" y="1052.6" font-size="18.67" font-weight="normal" font-style="normal" fill="#000" text-anchor="start" xml:space="preserve" textLength="54.6" lengthAdjust="spacingAndGlyphs" stroke="#000" stroke-width="0.22">Autres</text>
<text x="1943.7" y="1073.9" font-size="18.67" font-weight="normal" font-style="normal" fill="#000" text-anchor="start" xml:space="preserve" textLength="84.0" lengthAdjust="spacingAndGlyphs" stroke="#000" stroke-width="0.22">transports</text>
<text x="1967.3" y="1100.5" font-size="18.67" font-weight="normal" font-style="normal" fill="#000" text-anchor="start" xml:space="preserve" textLength="45.1" lengthAdjust="spacingAndGlyphs" stroke="#000" stroke-width="0.22">(0 %)</text>
<text x="1931.0" y="73.2" font-size="18.67" font-weight="bold" font-style="normal" fill="#000" text-anchor="middle" xml:space="preserve" textLength="250.6" lengthAdjust="spacingAndGlyphs">Consommation énergétique</text>
<text x="1934.0" y="95.9" font-size="18.67" font-weight="bold" font-style="normal" fill="#000" text-anchor="middle" xml:space="preserve" textLength="49.3" lengthAdjust="spacingAndGlyphs">finale</text>
<text x="1934.5" y="118.6" font-size="18.67" font-weight="bold" font-style="normal" fill="#000" text-anchor="middle" xml:space="preserve" textLength="215.2" lengthAdjust="spacingAndGlyphs">(non corrigée du climat)</text>
<text x="2180.0" y="73.9" font-size="18.67" font-weight="bold" font-style="normal" fill="#000" text-anchor="middle" xml:space="preserve" textLength="179.6" lengthAdjust="spacingAndGlyphs">Emissions de GES *</text>
<text x="2180.0" y="96.6" font-size="18.67" font-weight="bold" font-style="normal" fill="#000" text-anchor="middle" xml:space="preserve" textLength="181.6" lengthAdjust="spacingAndGlyphs">(PRG 2021 - PCAET)</text>
<text x="2182.0" y="118.6" font-size="18.67" font-weight="bold" font-style="normal" fill="#000" text-anchor="middle" xml:space="preserve" textLength="93.5" lengthAdjust="spacingAndGlyphs">en ktCO2e</text>
<text x="2125.7" y="143.3" font-size="15.70" font-weight="bold" font-style="normal" fill="#000" text-anchor="middle" xml:space="preserve" textLength="53.2" lengthAdjust="spacingAndGlyphs">Liées à</text>
<text x="2125.7" y="162.0" font-size="15.70" font-weight="bold" font-style="normal" fill="#000" text-anchor="middle" xml:space="preserve" textLength="63.9" lengthAdjust="spacingAndGlyphs">l'énergie</text>
<text x="2134.0" y="185.7" font-size="15.70" font-weight="bold" font-style="normal" fill="#000" text-anchor="middle" xml:space="preserve" textLength="46.2" lengthAdjust="spacingAndGlyphs">(82 %)</text>
<text x="2220.5" y="143.3" font-size="15.70" font-weight="bold" font-style="italic" fill="#6e6e6e" text-anchor="middle" xml:space="preserve" textLength="82.9" lengthAdjust="spacingAndGlyphs">Non liées à</text>
<text x="2221.0" y="162.0" font-size="15.70" font-weight="bold" font-style="italic" fill="#6e6e6e" text-anchor="middle" xml:space="preserve" textLength="63.9" lengthAdjust="spacingAndGlyphs">l'énergie</text>
<text x="2232.5" y="185.7" font-size="15.70" font-weight="normal" font-style="normal" fill="#6e6e6e" text-anchor="middle" xml:space="preserve" textLength="46.2" lengthAdjust="spacingAndGlyphs">(18 %)</text>
<line x1="2079" y1="194.5" x2="2272" y2="194.5" stroke="#5a5a5a" stroke-width="1" stroke-dasharray="1 1" shape-rendering="crispEdges"/>
<line x1="2079" y1="1121.5" x2="2272" y2="1121.5" stroke="#5a5a5a" stroke-width="1" stroke-dasharray="1 1" shape-rendering="crispEdges"/>
<line x1="2079.5" y1="194" x2="2079.5" y2="1122" stroke="#5a5a5a" stroke-width="1" stroke-dasharray="1 1" shape-rendering="crispEdges"/>
<line x1="2271.5" y1="194" x2="2271.5" y2="1122" stroke="#5a5a5a" stroke-width="1" stroke-dasharray="1 1" shape-rendering="crispEdges"/>
<line x1="2175" y1="195" x2="2175" y2="1121" stroke="#555" stroke-width="1.3"/>
<text x="2125.9" y="259.8" font-size="18.67" font-weight="bold" font-style="normal" fill="#000" text-anchor="start" xml:space="preserve">84</text>
<text x="2103.3" y="284.1" font-size="18.67" font-weight="bold" font-style="normal" fill="#000" text-anchor="start" xml:space="preserve" textLength="55.7" lengthAdjust="spacingAndGlyphs">(14 %)</text>
<text x="2214.8" y="259.8" font-size="18.67" font-weight="bold" font-style="italic" fill="#6e6e6e" text-anchor="start" xml:space="preserve">47</text>
<text x="2196.1" y="284.1" font-size="18.67" font-weight="bold" font-style="italic" fill="#6e6e6e" text-anchor="start" xml:space="preserve" textLength="55.7" lengthAdjust="spacingAndGlyphs">(35 %)</text>
<text x="2116.9" y="419.9" font-size="18.67" font-weight="bold" font-style="normal" fill="#000" text-anchor="start" xml:space="preserve" textLength="31.5" lengthAdjust="spacingAndGlyphs">123</text>
<text x="2103.3" y="444.1" font-size="18.67" font-weight="bold" font-style="normal" fill="#000" text-anchor="start" xml:space="preserve" textLength="55.7" lengthAdjust="spacingAndGlyphs">(20 %)</text>
<text x="2221.3" y="419.9" font-size="18.67" font-weight="bold" font-style="italic" fill="#6e6e6e" text-anchor="start" xml:space="preserve">6</text>
<text x="2200.9" y="444.1" font-size="18.67" font-weight="bold" font-style="italic" fill="#6e6e6e" text-anchor="start" xml:space="preserve" textLength="45.1" lengthAdjust="spacingAndGlyphs">(4 %)</text>
<text x="2118.5" y="563.7" font-size="18.67" font-weight="bold" font-style="normal" fill="#000" text-anchor="start" xml:space="preserve">61</text>
<text x="2103.3" y="588.0" font-size="18.67" font-weight="bold" font-style="normal" fill="#000" text-anchor="start" xml:space="preserve" textLength="55.7" lengthAdjust="spacingAndGlyphs">(10 %)</text>
<text x="2216.1" y="563.7" font-size="18.67" font-weight="bold" font-style="italic" fill="#6e6e6e" text-anchor="start" xml:space="preserve">10</text>
<text x="2200.9" y="588.0" font-size="18.67" font-weight="bold" font-style="italic" fill="#6e6e6e" text-anchor="start" xml:space="preserve" textLength="45.1" lengthAdjust="spacingAndGlyphs">(8 %)</text>
<text x="2119.1" y="714.5" font-size="18.67" font-weight="bold" font-style="normal" fill="#000" text-anchor="start" xml:space="preserve">15</text>
<text x="2103.3" y="739.5" font-size="18.67" font-weight="bold" font-style="normal" fill="#000" text-anchor="start" xml:space="preserve" textLength="45.1" lengthAdjust="spacingAndGlyphs">(2 %)</text>
<text x="2214.5" y="714.5" font-size="18.67" font-weight="bold" font-style="italic" fill="#6e6e6e" text-anchor="start" xml:space="preserve">69</text>
<text x="2197.7" y="739.5" font-size="18.67" font-weight="bold" font-style="italic" fill="#6e6e6e" text-anchor="start" xml:space="preserve" textLength="55.7" lengthAdjust="spacingAndGlyphs">(51 %)</text>
<text x="2113.6" y="883.7" font-size="18.67" font-weight="bold" font-style="normal" fill="#000" text-anchor="start" xml:space="preserve" textLength="31.5" lengthAdjust="spacingAndGlyphs">324</text>
<text x="2103.3" y="908.9" font-size="18.67" font-weight="bold" font-style="normal" fill="#000" text-anchor="start" xml:space="preserve" textLength="55.7" lengthAdjust="spacingAndGlyphs">(53 %)</text>
<text x="2221.3" y="883.7" font-size="18.67" font-weight="bold" font-style="italic" fill="#6e6e6e" text-anchor="start" xml:space="preserve">4</text>
<text x="2200.9" y="908.9" font-size="18.67" font-weight="bold" font-style="italic" fill="#6e6e6e" text-anchor="start" xml:space="preserve" textLength="45.1" lengthAdjust="spacingAndGlyphs">(3 %)</text>
<text x="2125.0" y="1027.6" font-size="18.67" font-weight="bold" font-style="normal" fill="#000" text-anchor="start" xml:space="preserve">1</text>
<text x="2103.3" y="1052.5" font-size="18.67" font-weight="bold" font-style="normal" fill="#000" text-anchor="start" xml:space="preserve" textLength="45.1" lengthAdjust="spacingAndGlyphs">(0 %)</text>
<text x="2221.3" y="1027.6" font-size="18.67" font-weight="bold" font-style="italic" fill="#6e6e6e" text-anchor="start" xml:space="preserve">0</text>
<text x="2200.9" y="1052.5" font-size="18.67" font-weight="bold" font-style="italic" fill="#6e6e6e" text-anchor="start" xml:space="preserve" textLength="45.1" lengthAdjust="spacingAndGlyphs">(0 %)</text>
<text x="1711.7" y="1149.0" font-size="18.67" font-weight="bold" font-style="normal" fill="#000" text-anchor="start" xml:space="preserve" textLength="87.5" lengthAdjust="spacingAndGlyphs">TOTAUX :</text>
<text x="1839.5" y="1147.6" font-size="18.67" font-weight="bold" font-style="normal" fill="#000" text-anchor="start" xml:space="preserve" textLength="96.6" lengthAdjust="spacingAndGlyphs">3 752 GWh</text>
<text x="2126.6" y="1149.0" font-size="18.67" font-weight="bold" font-style="normal" fill="#000" text-anchor="start" xml:space="preserve" textLength="31.5" lengthAdjust="spacingAndGlyphs">608</text>
<text x="2234.6" y="1149.0" font-size="18.67" font-weight="bold" font-style="normal" fill="#000" text-anchor="start" xml:space="preserve" textLength="31.5" lengthAdjust="spacingAndGlyphs">137</text>
<rect x="14.8" y="1193.7" width="472.2" height="40.5" fill="url(#gBar)" stroke="#8fb3d1" stroke-width="1.2"/>
<text x="150.4" y="1219.5" font-size="18.67" font-weight="bold" font-style="normal" fill="#000" text-anchor="start" xml:space="preserve" textLength="199.6" lengthAdjust="spacingAndGlyphs">Ressources primaires</text>
<rect x="494.7" y="1193.7" width="568.6" height="40.5" fill="url(#gBar)" stroke="#8fb3d1" stroke-width="1.2"/>
<text x="710.4" y="1219.5" font-size="18.67" font-weight="bold" font-style="normal" fill="#000" text-anchor="start" xml:space="preserve" textLength="172.6" lengthAdjust="spacingAndGlyphs">Energies primaires</text>
<rect x="1078.8" y="1193.7" width="464.5" height="40.5" fill="url(#gBar)" stroke="#8fb3d1" stroke-width="1.2"/>
<text x="1229.9" y="1219.5" font-size="18.67" font-weight="bold" font-style="normal" fill="#000" text-anchor="start" xml:space="preserve" textLength="198.1" lengthAdjust="spacingAndGlyphs">Energies secondaires</text>
<rect x="1551.0" y="1193.7" width="496.7" height="40.5" fill="url(#gBar)" stroke="#8fb3d1" stroke-width="1.2"/>
<text x="1654.4" y="1219.5" font-size="18.67" font-weight="bold" font-style="normal" fill="#000" text-anchor="start" xml:space="preserve" textLength="307.6" lengthAdjust="spacingAndGlyphs">Consommation énergétique finale</text>
<line x1="2079" y1="1193.5" x2="2272" y2="1193.5" stroke="#5a5a5a" stroke-width="1" stroke-dasharray="1 1" shape-rendering="crispEdges"/>
<line x1="2079" y1="1234.5" x2="2272" y2="1234.5" stroke="#5a5a5a" stroke-width="1" stroke-dasharray="1 1" shape-rendering="crispEdges"/>
<line x1="2079.5" y1="1193" x2="2079.5" y2="1235" stroke="#5a5a5a" stroke-width="1" stroke-dasharray="1 1" shape-rendering="crispEdges"/>
<line x1="2271.5" y1="1193" x2="2271.5" y2="1235" stroke="#5a5a5a" stroke-width="1" stroke-dasharray="1 1" shape-rendering="crispEdges"/>
<text x="2142.2" y="1219.3" font-size="18.67" font-weight="bold" font-style="normal" fill="#000" text-anchor="start" xml:space="preserve" textLength="60.1" lengthAdjust="spacingAndGlyphs">Climat</text>
<text x="16.0" y="1255.3" font-size="14.67" font-weight="normal" font-style="italic" fill="#000" text-anchor="start" xml:space="preserve" textLength="1094.0" lengthAdjust="spacingAndGlyphs">* : Les émissions de GES présentées ici ne prennent pas en compte le secteur "Branche énergie", le secteur des déchets est quant à lui inclus dans celui de l'industrie.</text>
<text x="16.0" y="1271.8" font-size="14.67" font-weight="normal" font-style="italic" fill="#000" text-anchor="start" xml:space="preserve" textLength="990.0" lengthAdjust="spacingAndGlyphs">** : Correspond au solde « Production – Consommation » dans le cas d’un Export ou au solde « Consommation – Production » dans le cas d’un Import.</text>
<text x="16.0" y="1288.7" font-size="14.67" font-weight="normal" font-style="italic" fill="#000" text-anchor="start" xml:space="preserve" textLength="597.0" lengthAdjust="spacingAndGlyphs">Note : les flux qui apparaissent avec une valeur égale à "0" sont en réalité > 0 et &lt; 0.5 GWh.</text>
<text x="1958.0" y="1273.0" font-size="16.00" font-weight="normal" font-style="normal" fill="#000" text-anchor="start" xml:space="preserve" textLength="309.7" lengthAdjust="spacingAndGlyphs" stroke="#000" stroke-width="0.22">Source : ATMO Grand Est Invent'Air V2025</text>
<g>
<line x1="95.5" y1="62.5" x2="80" y2="84.5" stroke="#4dc8f5" stroke-width="9" stroke-linecap="round"/>
<ellipse cx="113.5" cy="35.4" rx="30.7" ry="27.2" fill="#fff" stroke="#4dc8f5" stroke-width="6.3"/>
<path d="M89.7,29 C96,29.5 100,30 104,30.6 C116,27 130,33 136,44.5 C131,54 119,58.5 109,56.5 C96,54 88,43 89.7,29 Z" fill="#c5dc6f"/>
<path d="M89.7,29 C96,29.5 100,30 104,30.6 C114,30 128,36 135.5,45.5 C130,54.5 119,58.5 109,56.5 C96,54 88,43 89.7,29 Z" fill="#8bc665"/>
<path d="M103.3,34.9 C101,31 96.1,29 96.1,25 A7.2,7.2 0 1 1 110.5,25 C110.5,29 105.6,31 103.3,34.9 Z" fill="#f79a1c"/>
<ellipse cx="103.3" cy="24.8" rx="2.6" ry="2.2" fill="#fff"/>
<g stroke="#0b2a47" stroke-width="0.9" stroke-linejoin="round">
<text x="148.6" y="53.0" font-size="31.50" font-weight="bold" font-style="normal" fill="#0b2a47" text-anchor="start" xml:space="preserve" textLength="194.4" lengthAdjust="spacingAndGlyphs">bservatoire</text>
<text x="130.9" y="75.3" font-size="21.00" font-weight="bold" font-style="normal" fill="#0b2a47" text-anchor="start" xml:space="preserve" textLength="70.2" lengthAdjust="spacingAndGlyphs">climat</text>
<text x="217.0" y="75.3" font-size="21.00" font-weight="bold" font-style="normal" fill="#0b2a47" text-anchor="start" xml:space="preserve" textLength="31.6" lengthAdjust="spacingAndGlyphs">air</text>
<text x="260.6" y="75.3" font-size="21.00" font-weight="bold" font-style="normal" fill="#0b2a47" text-anchor="start" xml:space="preserve" textLength="82.4" lengthAdjust="spacingAndGlyphs">énergie</text>
</g>
<circle cx="210" cy="70.3" r="2.3" fill="#3fc0e8"/><circle cx="253.7" cy="70.3" r="2.3" fill="#3fc0e8"/>
<g stroke="#0b2a47" stroke-width="0.35">
<text x="131.0" y="89.9" font-size="13.50" font-weight="normal" font-style="normal" fill="#0b2a47" text-anchor="start" xml:space="preserve" textLength="72.0" lengthAdjust="spacingAndGlyphs">Grand Est</text>
</g>
</g>
<g fill="#151515">
<path d="M1951.2,242 L1951.2,219.8 L1963.3,213.5 L1966.2,219.8 L1979.5,213.5 L1982.4,219.8 L1993.9,213.5 L1996.3,218.5 L2008.9,213.5 L2013,220.5 L2013,242 Z"/>
<rect x="1987.5" y="191.5" width="3.6" height="28"/><rect x="1997.8" y="191.5" width="3.2" height="28"/>
<g fill="#fff"><rect x="1956.7" y="229" width="9.7" height="7"/><rect x="1970.5" y="229" width="9.5" height="7"/><rect x="1984" y="229" width="9.3" height="7"/><rect x="1998" y="229" width="8.8" height="7"/></g>
</g>
<g fill="#000">
<path d="M1962,420 L1962,396.5 L1983.3,378.3 L2003,396.5 L2003,420 L1987.2,420 L1987.2,406 L1977.7,406 L1977.7,420 Z"/>
<path d="M1955.5,393 L1983.3,370.5 L2010.5,393" fill="none" stroke="#fff" stroke-width="9" stroke-linejoin="miter"/>
<rect x="1999" y="374" width="6" height="14"/>
<path d="M1955.8,393.2 L1983.3,371.3 L2010.2,393.2" fill="none" stroke="#000" stroke-width="4.6" stroke-linecap="round" stroke-linejoin="miter"/>
</g>
<g>
<rect x="1967.5" y="538.6" width="39.9" height="23.6" rx="2.2" fill="#fff" stroke="#151515" stroke-width="3"/>
<path d="M1967.3,565.2 L2008.3,565.2 L2016,575.5 L2015,579 L1960.3,579 L1959.3,575.5 Z" fill="#151515"/>
<path d="M1971,566.2 L1978,566.2 M1990,566.2 L2005,566.2" stroke="#fff" stroke-width="1" />
<path d="M1969.5,567.6 L2006,567.6 L2010,573.6 L1965.5,573.6 Z" fill="#e9e9e9"/>
<path d="M1968,570.6 L2008,570.6 M1974,567.6 L1972,573.6 M1980,567.6 L1979,573.6 M1986,567.6 L1986,573.6 M1992,567.6 L1993,573.6 M1998,567.6 L2000,573.6 M2003.5,567.6 L2006,573.6" stroke="#151515" stroke-width="0.8"/>
</g>
<g fill="#2b2b2b">
<path d="M1963,688.6 Q1975,687 1987,688.6 L1987.5,691 L1963,691 Z"/>
<path d="M1964.5,690 L1967,690 L1964.3,703.5 L1961.5,705 L1960.5,708 L1962,703 Z"/>
<path d="M1974.3,690 L1976.3,690 L1976.5,703 L1974.3,702 Z"/>
<path d="M1960.3,708 L1962,702.5 L1975,701.5 L1983,709.5 L1987,709.5 L1985,690 L1987.5,690 L1990,700.3 L2003,702.5 Q2007.2,704 2007.4,709.8 L1998,710.5 Q1994,715 1994,720 L1982.5,719.5 Q1982.5,706 1969,703.3 Q1963,703.5 1960.3,708 Z"/>
<path d="M1990.3,700.5 L1990.3,690.5 Q1990.5,689 1992.3,688.8" fill="none" stroke="#2b2b2b" stroke-width="2.2" stroke-linecap="round"/>
<circle cx="1969.1" cy="716" r="11.5"/><circle cx="1969.1" cy="716" r="6.8" fill="#fff"/><circle cx="1969.1" cy="716" r="4.9"/>
<circle cx="2004" cy="719.1" r="8.7"/><circle cx="2004" cy="719.1" r="4.4" fill="#fff"/>
</g>
<g fill="#000">
<path d="M1964,852 L1969.3,837.5 Q1970.3,835 1973,835 L1994.5,835 Q1997,835 1998,837.5 L2003,852 Z"/>
<rect x="1959.8" y="850.3" width="46.2" height="21.2" rx="4.5"/>
<path d="M1963.9,868 L1970.3,868 L1970.3,877.6 A3.2,3.2 0 0 1 1963.9,877.6 Z"/>
<path d="M1995.6,868 L2002.6,868 L2002.6,877.3 A3.5,3.5 0 0 1 1995.6,877.3 Z"/>
<path d="M1968.3,849.6 L1972.6,838.6 L1994.6,838.6 L1999,849.6 Z" fill="#fff"/>
<circle cx="1990.7" cy="842.3" r="2.4"/><path d="M1985.2,849.6 Q1985.5,846.3 1988.5,846.3 L1993.3,846.3 Q1996,846.3 1996.5,849.6 Z"/>
<ellipse cx="1967.1" cy="859" rx="3.1" ry="3.7" fill="#fff"/><ellipse cx="1999.1" cy="859" rx="3.1" ry="3.7" fill="#fff"/>
</g>
<g fill="#000">
<path d="M1968.5,1014 Q1967.3,1005 1967.5,997 Q1968,984 1973,981 Q1984,979.5 1995,981 Q1999,983 2000.5,992 Q2002,1003 2008,1006.5 Q2013,1008.5 2017.5,1009.5 Q2018.7,1010 2018.7,1012 L2018.7,1016.5 Q2018,1018.7 2016,1018.9 L2022.8,1018.9 L2022.8,1019.8 L1990,1019.8 L1975,1019.8 Q1970,1019 1968.5,1014 Z"/>
<path d="M1971.4,988.2 L1982.4,988.2 L1982.4,994.8 L1970.2,994.8 Z M1984.1,988.2 L1993.9,988.2 L1995.6,994.8 L1984.1,994.8 Z" fill="#fff"/>
<circle cx="1983.3" cy="984.4" r="1.9" fill="#fff"/><circle cx="1972.9" cy="1007.5" r="2.7" fill="#fff"/><circle cx="1992.7" cy="1007.5" r="2.7" fill="#fff"/>
<path d="M2001,1001 Q2003,1006.5 2009,1008.5 L2016.3,1010.5 L2016.3,1013.2 Q2006,1012 2001.5,1008.5 Z" fill="#fff"/>
<path d="M1959.3,1033.7 L1959.3,1030 Q1965,1022 1976,1019.6 L1992,1019.6 Q1972,1023 1964.5,1033.7 Z"/>
<path d="M1979.5,1033.7 Q1985,1022 1996,1019.5 L2012,1019.3 Q1993,1022 1986,1033.7 Z"/>
</g>
</svg>
</body></html>
